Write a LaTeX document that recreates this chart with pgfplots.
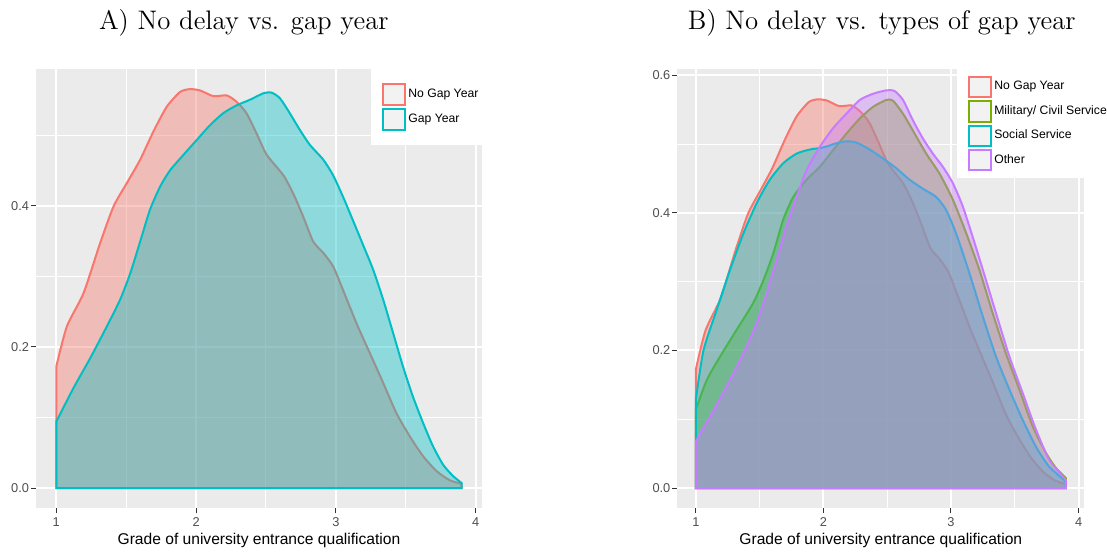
\documentclass[border=0pt]{standalone}
\usepackage{pgfplots}
\pgfplotsset{compat=1.18}
\usepackage{fontspec}
\newfontfamily\arialf{Liberation Sans}
\definecolor{cred}{HTML}{F8766D}
\definecolor{ccyan}{HTML}{00BFC4}
\definecolor{cgreen}{HTML}{7CAE00}
\definecolor{cpurple}{HTML}{C77CFF}
\definecolor{panelbg}{HTML}{EBEBEB}
\definecolor{gray30}{HTML}{4D4D4D}
\definecolor{gray20}{HTML}{333333}
\definecolor{gray95}{HTML}{F2F2F2}

\pgfplotstableread{
x y
1.000 0.172
1.076 0.229
1.195 0.276
1.314 0.347
1.410 0.399
1.505 0.432
1.600 0.465
1.695 0.505
1.790 0.540
1.886 0.561
1.957 0.565
2.030 0.563
2.124 0.555
2.220 0.556
2.290 0.547
2.360 0.531
2.433 0.502
2.505 0.472
2.624 0.443
2.695 0.417
2.767 0.384
2.838 0.349
2.910 0.333
2.980 0.314
3.050 0.281
3.148 0.233
3.243 0.191
3.338 0.149
3.433 0.106
3.529 0.073
3.624 0.045
3.720 0.024
3.814 0.011
3.900 0.006
}\nogap

\pgfplotstableread{
x y
1.000 0.094
1.124 0.142
1.243 0.184
1.362 0.229
1.457 0.267
1.529 0.304
1.600 0.349
1.670 0.394
1.743 0.427
1.814 0.450
1.910 0.472
2.005 0.493
2.100 0.514
2.195 0.531
2.290 0.542
2.386 0.550
2.480 0.559
2.540 0.560
2.600 0.552
2.670 0.531
2.743 0.507
2.814 0.486
2.910 0.465
2.980 0.443
3.050 0.413
3.120 0.380
3.195 0.344
3.267 0.309
3.338 0.267
3.410 0.219
3.480 0.172
3.550 0.130
3.624 0.092
3.695 0.059
3.767 0.033
3.838 0.017
3.900 0.007
}\gap

\pgfplotstableread{
x y
1.000 0.114
1.086 0.157
1.190 0.191
1.320 0.230
1.450 0.269
1.530 0.302
1.607 0.341
1.685 0.390
1.764 0.423
1.868 0.448
1.972 0.467
2.076 0.491
2.180 0.515
2.285 0.537
2.389 0.554
2.493 0.564
2.545 0.563
2.624 0.544
2.700 0.520
2.806 0.486
2.910 0.457
3.015 0.419
3.120 0.370
3.223 0.317
3.327 0.254
3.430 0.196
3.536 0.143
3.640 0.090
3.744 0.051
3.823 0.029
3.900 0.0145
}\military

\pgfplotstableread{
x y
1.000 0.128
1.060 0.200
1.164 0.259
1.268 0.317
1.373 0.370
1.477 0.414
1.580 0.448
1.685 0.472
1.790 0.486
1.894 0.492
1.998 0.495
2.100 0.501
2.180 0.504
2.260 0.502
2.363 0.492
2.467 0.479
2.570 0.465
2.676 0.448
2.780 0.435
2.884 0.423
2.962 0.404
3.040 0.370
3.145 0.312
3.250 0.249
3.353 0.191
3.458 0.143
3.562 0.099
3.666 0.060
3.770 0.031
3.900 0.0097
}\social

\pgfplotstableread{
x y
1.000 0.068
1.112 0.104
1.242 0.148
1.373 0.196
1.477 0.240
1.555 0.283
1.633 0.331
1.711 0.380
1.790 0.423
1.868 0.462
1.972 0.496
2.076 0.523
2.180 0.544
2.285 0.564
2.389 0.573
2.493 0.578
2.558 0.577
2.624 0.564
2.700 0.535
2.780 0.508
2.858 0.486
2.936 0.467
3.015 0.443
3.093 0.409
3.170 0.365
3.250 0.317
3.353 0.254
3.458 0.191
3.562 0.138
3.666 0.085
3.770 0.041
3.900 0.012
}\other

\pgfplotsset{gg/.style={
  scale only axis, anchor=south west,
  height=219.5pt,
  axis background/.style={fill=panelbg},
  axis line style={draw=none},
  tick pos=left, tick align=outside,
  major tick length=2.5pt, minor tick length=0pt,
  every tick/.style={color=gray20, line width=0.5pt},
  grid=both,
  major grid style={white, line width=1pt},
  minor grid style={white, line width=0.5pt},
  xtick={1,2,3,4}, minor xtick={1.5,2.5,3.5},
  xmin=0.855, xmax=4.045,
  /pgf/number format/assume math mode=true,
  ticklabel style={font=\arialf\fontsize{6.4}{7}\selectfont, text=gray30},
  xticklabel style={inner sep=0pt, yshift=-2.2pt},
  yticklabel style={inner sep=0pt, xshift=-0.8pt, /pgf/number format/.cd, fixed, fixed zerofill, precision=1},
  xlabel={Grade of university entrance qualification},
  xlabel style={font=\arialf\fontsize{7.8}{9}\selectfont, at={(axis description cs:0.5,-0.082)}, anchor=base, inner sep=0pt},
  title style={font=\fontsize{13.4}{16}\selectfont, anchor=base, inner sep=0pt},
  legend style={anchor=north west, fill=white, draw=none,
    font=\arialf\fontsize{6.1}{7}\selectfont,
    inner xsep=5.6pt, inner ysep=7pt, row sep=1.3pt,
    nodes={inner sep=1pt}},
  legend cell align=left,
  legend image code/.code={\draw[#1, fill=gray95, fill opacity=1, draw opacity=1] (0pt,-5.1pt) rectangle (11pt,5.1pt);},
  every axis plot/.append style={line width=1pt, fill opacity=0.4, smooth, tension=0.4},
}}

\begin{document}
\begin{tikzpicture}
\useasboundingbox (0pt,0pt) rectangle (553.5pt,276pt);
\begin{axis}[gg, at={(18pt,22pt)}, width=223pt,
  ymin=-0.0283, ymax=0.5935,
  ytick={0,0.2,0.4}, minor ytick={0.1,0.3,0.5},
  title={A) No delay vs. gap year},
  title style={at={(axis description cs:0.466,1.0631)}},
  legend style={at={(axis description cs:0.7505,1)}},
]
\addplot[draw=cred, fill=cred] table[x=x,y=y] {\nogap} \closedcycle;
\addlegendentry{No Gap Year}
\addplot[draw=ccyan, fill=ccyan] table[x=x,y=y] {\gap} \closedcycle;
\addlegendentry{Gap Year}
\end{axis}
\begin{axis}[gg, at={(338.65pt,22pt)}, width=203.5pt,
  ymin=-0.029, ymax=0.609,
  ytick={0,0.2,0.4,0.6}, minor ytick={0.1,0.3,0.5},
  title={B) No delay vs. types of gap year},
  title style={at={(axis description cs:0.5025,1.0631)}},
  legend style={at={(axis description cs:0.6865,1)}, inner ysep=3.2pt, row sep=1pt},
]
\addplot[draw=cred, fill=cred] table[x=x,y=y] {\nogap} \closedcycle;
\addlegendentry{No Gap Year}
\addplot[draw=cgreen, fill=cgreen] table[x=x,y=y] {\military} \closedcycle;
\addlegendentry{Military/ Civil Service}
\addplot[draw=ccyan, fill=ccyan] table[x=x,y=y] {\social} \closedcycle;
\addlegendentry{Social Service}
\addplot[draw=cpurple, fill=cpurple] table[x=x,y=y] {\other} \closedcycle;
\addlegendentry{Other}
\end{axis}
\end{tikzpicture}
\end{document}
